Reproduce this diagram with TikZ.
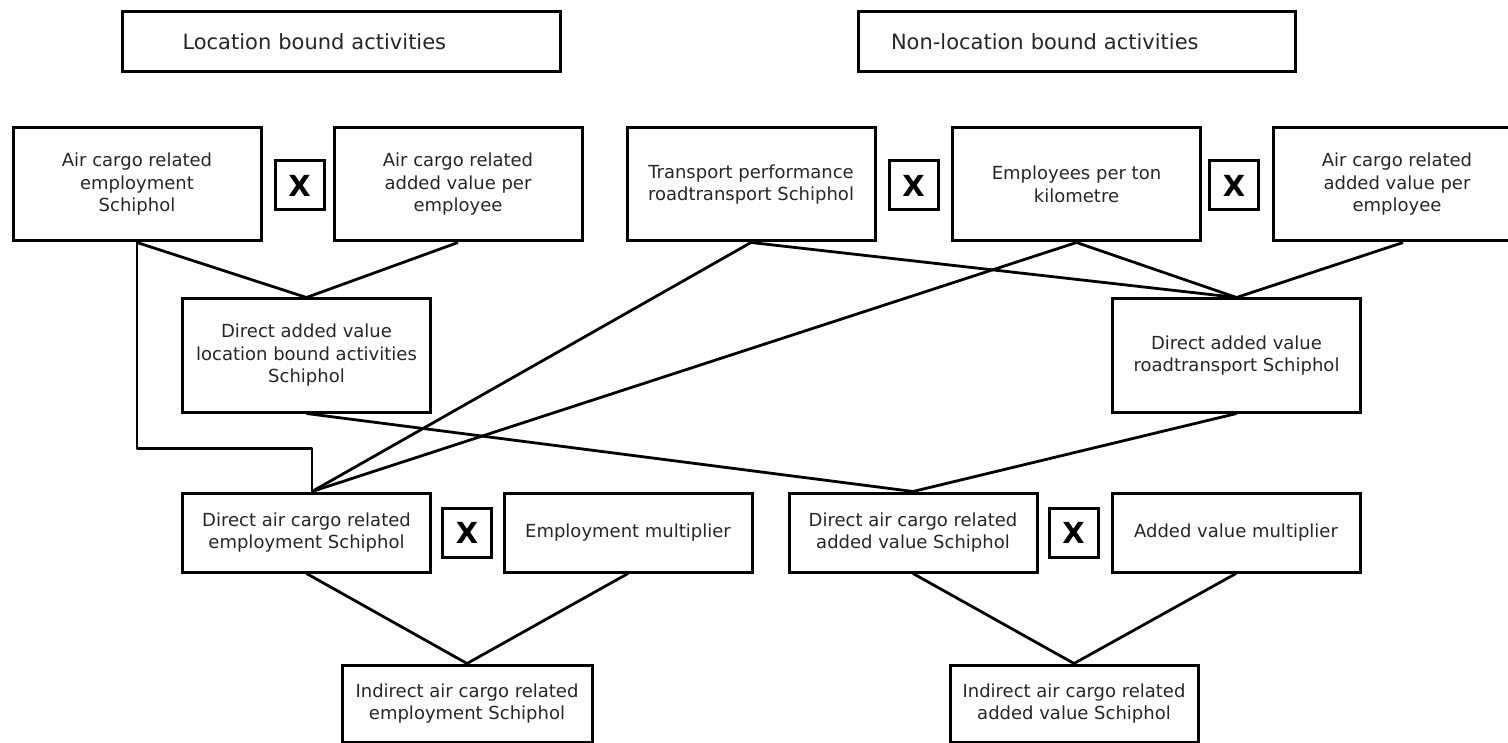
\documentclass[tikz,border=0pt]{standalone}
\usepackage{fontspec}
\setmainfont{DejaVu Sans}
\tikzset{
  box/.style={draw, line width=3pt, minimum width=248pt, minimum height=113pt,
    align=center, inner sep=0pt, font=\fontsize{18}{22.5}\selectfont, text=black!85},
  lowbox/.style={box, minimum height=79pt},
  xbox/.style={draw, line width=3pt, minimum width=49pt, minimum height=49pt,
    inner sep=0pt, font=\fontsize{29}{29}\bfseries\selectfont},
  head/.style={draw, line width=3pt, minimum height=60pt, align=left,
    inner ysep=0pt, font=\fontsize{21}{24}\selectfont, text=black!85},
  link/.style={line width=2.8pt, line join=round}
}
\begin{document}
\begin{tikzpicture}[x=1pt,y=-1pt]
\useasboundingbox (0,0) rectangle (1508,743);
\clip (0,0) rectangle (1508,743);
% headers
\node[head, text width=318pt, inner xsep=60pt] (H1) at (341.5,42) {Location bound activities};
\node[head, text width=371pt, inner xsep=33pt] (H2) at (1076.5,42) {Non-location bound activities};
% row 2
\node[box] (A1) at (137,184.5) {Air cargo related\\employment\\Schiphol};
\node[xbox] (X1) at (299.5,185.5) {X};
\node[box] (A2) at (458,184.5) {Air cargo related\\added value per\\employee};
\node[box] (B1) at (751,184.5) {Transport performance\\roadtransport Schiphol};
\node[xbox] (X2) at (913.5,185.5) {X};
\node[box] (B2) at (1076.5,184.5) {Employees per ton\\kilometre};
\node[xbox] (X3) at (1234,185.5) {X};
\node[box] (B3) at (1397,184.5) {Air cargo related\\added value per\\employee};
% row 3
\node[box] (C1) at (306.5,355.5) {Direct added value\\location bound activities\\Schiphol};
\node[box] (C2) at (1236.5,355.5) {Direct added value\\roadtransport Schiphol};
% row 4
\node[lowbox] (D1) at (306.5,532.5) {Direct air cargo related\\employment Schiphol};
\node[xbox] (X4) at (467,532.5) {X};
\node[lowbox] (E1) at (628,532.5) {Employment multiplier};
\node[lowbox] (D2) at (913,532.5) {Direct air cargo related\\added value Schiphol};
\node[xbox] (X5) at (1073.5,532.5) {X};
\node[lowbox] (E2) at (1236,532.5) {Added value multiplier};
% row 5
\node[lowbox, minimum height=77pt, minimum width=250pt] (F1) at (467,703.5) {Indirect air cargo related\\employment Schiphol};
\node[lowbox, minimum height=77pt] (F2) at (1074,703.5) {Indirect air cargo related\\added value Schiphol};
% helper coordinates
\coordinate (D1t) at ([xshift=5.5pt]D1.north);
\path (D1t) ++(0,-43) coordinate (elb);
% connectors
\draw[link] (A1.south) -- (C1.north);
\draw[link] (A2.south) -- (C1.north);
\draw[link] (A1.south) |- (elb) -- (D1t);
\draw[link] (B1.south) -- (D1t);
\draw[link] (B2.south) -- (D1t);
\draw[link] (B1.south) -- (C2.north);
\draw[link] (B2.south) -- (C2.north);
\draw[link] ([xshift=6pt]B3.south) -- (C2.north);
\draw[link] (C1.south) -- (D2.north);
\draw[link] (C2.south) -- (D2.north);
\draw[link] (D1.south) -- (F1.north);
\draw[link] (E1.south) -- (F1.north);
\draw[link] (D2.south) -- (F2.north);
\draw[link] (E2.south) -- (F2.north);
\end{tikzpicture}
\end{document}
